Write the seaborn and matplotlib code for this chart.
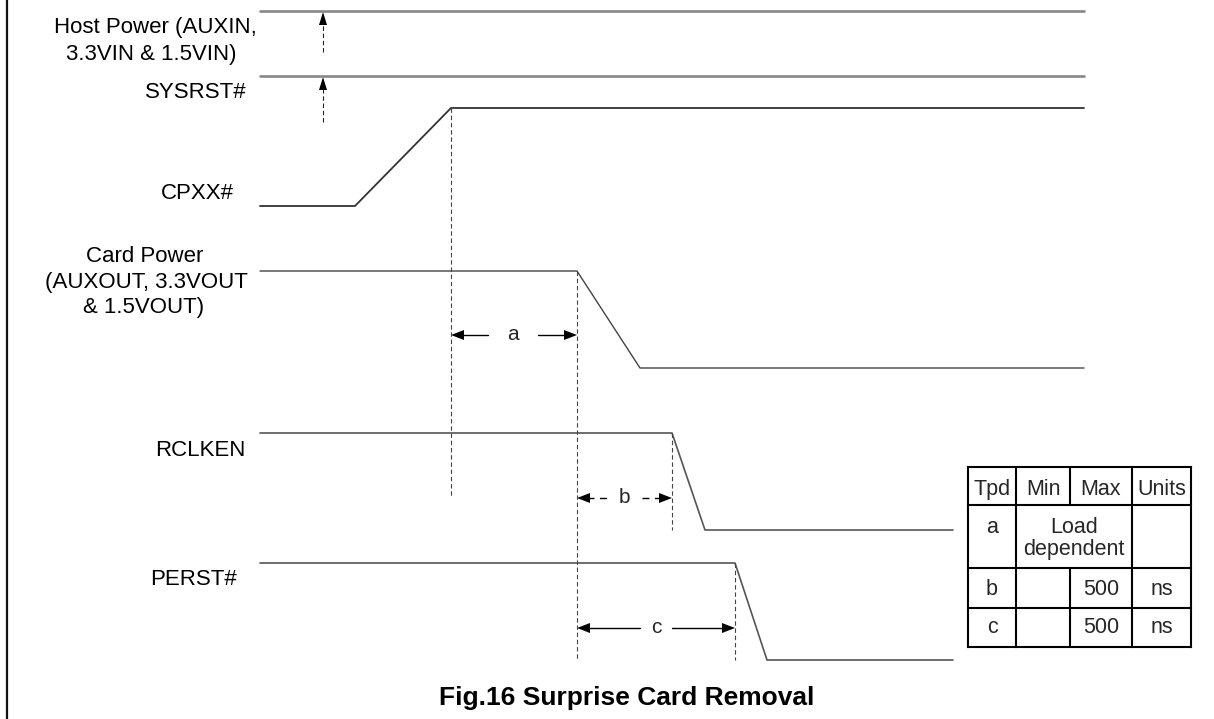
"""
Timing diagram: Fig.16 Surprise Card Removal, drawn with seaborn/matplotlib.
"""
import seaborn as sns
import matplotlib.pyplot as plt
import pandas as pd

sns.set_theme(style='white')
plt.rcParams['font.family'] = ['Liberation Sans', 'DejaVu Sans']

W, H = 1214, 719

# Waveforms: break points (time, level), in pixel units
host_t = [260, 1084]
host_lvl = [11, 11]
sysrst_t = [260, 1084]
sysrst_lvl = [76, 76]
cpxx_t = [260, 355, 451, 1084]
cpxx_lvl = [206, 206, 108, 108]
card_t = [260, 577, 640, 1084]
card_lvl = [271, 271, 368, 368]
rclken_t = [260, 672, 705, 953]
rclken_lvl = [433, 433, 530, 530]
perst_t = [260, 735, 767, 953]
perst_lvl = [563, 563, 660, 660]

signals = ['Host Power', 'SYSRST#', 'CPXX#', 'Card Power', 'RCLKEN', 'PERST#']
sig_t = [host_t, sysrst_t, cpxx_t, card_t, rclken_t, perst_t]
sig_lvl = [host_lvl, sysrst_lvl, cpxx_lvl, card_lvl, rclken_lvl, perst_lvl]

# Signal names (one entry per text line)
label_lines = ['Host Power (AUXIN,', '3.3VIN & 1.5VIN)', 'SYSRST#', 'CPXX#',
               'Card Power', '(AUXOUT, 3.3VOUT', '& 1.5VOUT)', 'RCLKEN', 'PERST#']
label_x = [155, 151, 196, 197, 145, 146, 144, 200, 193]
label_base = [33, 60, 98, 199, 262, 288, 313, 456, 585]

# Reference (dashed) verticals: x, y from, y to
ref_x = [451, 577, 672, 735]
ref_top = [108, 271, 433, 563]
ref_bot = [497, 660, 530, 660]

# Timing parameters a, b, c: start, end, y, label gap, dashed?
tpd_names = ['a', 'b', 'c']
tpd_start = [451, 577, 577]
tpd_end = [577, 672, 735]
tpd_y = [335, 498, 628]
tpd_gap = [(488, 538), (607, 642), (640, 672)]
tpd_dashed = [False, True, False]

# Table contents
tbl_header = ['Tpd', 'Min', 'Max', 'Units']
tbl_min = ['', '', '']
tbl_max = ['', '500', '500']
tbl_units = ['', 'ns', 'ns']
tbl_note = 'Load\ndependent'
tbl_cols = [968, 1016, 1070, 1132, 1191]
tbl_rows = [467, 505, 568, 608, 647]

df = pd.DataFrame([
    {'signal': s, 't': t, 'level': v, 'order': i}
    for s, ts, vs in zip(signals, sig_t, sig_lvl)
    for i, (t, v) in enumerate(zip(ts, vs))
])

fig = plt.figure(figsize=(W / 100, H / 100), dpi=100)
ax = fig.add_axes([0, 0, 1, 1])
ax.set_xlim(0, W)
ax.set_ylim(H, 0)
ax.axis('off')

sig_color = {'Host Power': '#888888', 'SYSRST#': '#888888', 'CPXX#': '#333333',
             'Card Power': '#444444', 'RCLKEN': '#555555', 'PERST#': '#555555'}
sig_width = {'Host Power': 1.9, 'SYSRST#': 1.9, 'CPXX#': 1.3,
             'Card Power': 1.0, 'RCLKEN': 1.2, 'PERST#': 1.2}

for s in signals:
    d = df[df['signal'] == s]
    sns.lineplot(data=d, x='t', y='level', sort=False, estimator=None,
                 color=sig_color[s], linewidth=sig_width[s], ax=ax)

ax.set_xlim(0, W)
ax.set_ylim(H, 0)
ax.set_xlabel('')
ax.set_ylabel('')

for txt, x, yb in zip(label_lines, label_x, label_base):
    ax.text(x, yb, txt, ha='center', va='baseline', fontsize=16, color='black')


def head(tx, ty, dx, dy, length=13, half=5):
    bx, by = tx - dx * length, ty - dy * length
    px, py = -dy * half, dx * half
    ax.fill([tx, bx + px, bx - px], [ty, by + py, by - py], color='black', lw=0)


dash = (0, (4, 2.5))

# small upward arrows at the power / reset lines
for tip, tail in [(12, 52), (77, 122)]:
    ax.plot([323, 323], [tail, tip + 10], color='#222222', lw=0.8, ls=dash)
    head(323, tip, 0, -1, length=13, half=4)

# dashed reference verticals
for x, y0, y1 in zip(ref_x, ref_top, ref_bot):
    ax.plot([x, x], [y0, y1], color='#444444', lw=0.8, ls=dash)

# dimension arrows
for name, x0, x1, y, (g0, g1), dashed in zip(tpd_names, tpd_start, tpd_end,
                                            tpd_y, tpd_gap, tpd_dashed):
    style = (0, (5, 4)) if dashed else '-'
    ax.plot([x0 + 10, g0], [y, y], color='black', lw=1.0, ls=style)
    ax.plot([g1, x1 - 10], [y, y], color='black', lw=1.0, ls=style)
    head(x0, y, -1, 0)
    head(x1, y, 1, 0)
    ax.text((g0 + g1) / 2, y + 5, name, ha='center', va='baseline', fontsize=15)

# parameter table
for i, y in enumerate(tbl_rows):
    ax.plot([tbl_cols[0], tbl_cols[-1]], [y, y], color='black', lw=1.5,
            solid_capstyle='projecting')
for j, x in enumerate(tbl_cols):
    if j == 2:
        ax.plot([x, x], [tbl_rows[0], tbl_rows[1]], color='black', lw=1.5)
        ax.plot([x, x], [tbl_rows[2], tbl_rows[-1]], color='black', lw=1.5)
    else:
        ax.plot([x, x], [tbl_rows[0], tbl_rows[-1]], color='black', lw=1.5,
                solid_capstyle='projecting')

col_mid = [(a + b) / 2 for a, b in zip(tbl_cols[:-1], tbl_cols[1:])]
for txt, x in zip(tbl_header, col_mid):
    ax.text(x, 495, txt, ha='center', va='baseline', fontsize=15.5)

row_base = [533, 595, 633]
for k in range(3):
    cells = [tpd_names[k], tbl_min[k], tbl_max[k], tbl_units[k]]
    for txt, x in zip(cells, col_mid):
        if txt:
            ax.text(x, row_base[k], txt, ha='center', va='baseline', fontsize=15.5)
note_x = (tbl_cols[1] + tbl_cols[3]) / 2
for txt, yb in zip(tbl_note.split('\n'), [533, 555]):
    ax.text(note_x, yb, txt, ha='center', va='baseline', fontsize=15.5)

# left frame line
ax.plot([7, 7], [0, H], color='#111111', lw=1.6)

# caption
ax.text(627, 705, 'Fig.16 Surprise Card Removal', ha='center', va='baseline',
        fontsize=19, fontweight='bold', color='black')

fig.savefig('out.png', dpi=100, facecolor='white')
